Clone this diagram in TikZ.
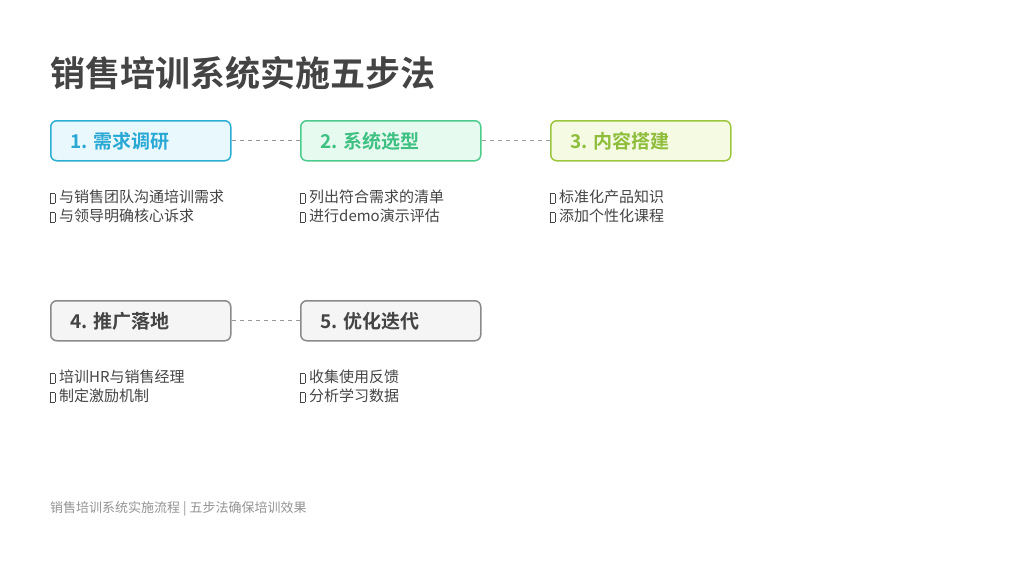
\documentclass[tikz,border=0pt]{standalone}
\usepackage{fontspec}
\setmainfont{Noto Sans CJK SC}
\newfontfamily\cjkb{Noto Sans CJK SC Bold}
\definecolor{bA}{HTML}{2AAED2}\definecolor{fA}{HTML}{E9F8FD}\definecolor{tA}{HTML}{2AA8D4}
\definecolor{bB}{HTML}{4DCB8C}\definecolor{fB}{HTML}{E6FAF0}\definecolor{tB}{HTML}{3EC082}
\definecolor{bC}{HTML}{9CC63E}\definecolor{fC}{HTML}{F5FBE2}\definecolor{tC}{HTML}{8EBD3B}
\definecolor{bD}{HTML}{8A8A8A}\definecolor{fD}{HTML}{F5F5F5}\definecolor{tD}{HTML}{444444}
\newcommand{\tofu}{{\setlength\fboxsep{0pt}\setlength\fboxrule{0.5pt}\fbox{\rule{0pt}{9pt}\hspace{4pt}}}\hspace{4pt}}
\begin{document}
\begin{tikzpicture}[x=1pt,y=-1pt,
  stepbox/.style={draw=#1!100,line width=1.5pt,rounded corners=6pt,minimum width=180pt,minimum height=40pt,anchor=north west},
  lbl/.style={anchor=west,font=\cjkb\fontsize{19}{19}\selectfont},
  conn/.style={draw=gray!80,dashed,line width=1pt,dash pattern=on 4pt off 4pt},
  items/.style={anchor=north west,align=left,font=\fontsize{15}{19}\selectfont,text=tD,inner sep=0pt}]
\useasboundingbox (0,0) rectangle (1024,576);
\node[anchor=west,font=\cjkb\fontsize{35}{35}\selectfont,text=tD,inner sep=0pt] (title) at (50,73) {销售培训系统实施五步法};
\node[stepbox=bA,fill=fA] (s1) at (50,120) {};
\node[stepbox=bB,fill=fB] (s2) at (300,120) {};
\node[stepbox=bC,fill=fC] (s3) at (550,120) {};
\node[stepbox=bD,fill=fD] (s4) at (50,300) {};
\node[stepbox=bD,fill=fD] (s5) at (300,300) {};
\node[lbl,text=tA] (l1) at (67,141) {1. 需求调研};
\node[lbl,text=tB] (l2) at (317,141) {2. 系统选型};
\node[lbl,text=tC] (l3) at (567,141) {3. 内容搭建};
\node[lbl,text=tD] (l4) at (67,321) {4. 推广落地};
\node[lbl,text=tD] (l5) at (317,321) {5. 优化迭代};
\draw[conn] (s1.east) -- (s2.west);
\draw[conn] (s2.east) -- (s3.west);
\draw[conn] (s4.east) -- (s5.west);
\node[items] (i1) at (50,190) {\tofu 与销售团队沟通培训需求\\\tofu 与领导明确核心诉求};
\node[items] (i2) at (300,190) {\tofu 列出符合需求的清单\\\tofu 进行demo演示评估};
\node[items] (i3) at (550,190) {\tofu 标准化产品知识\\\tofu 添加个性化课程};
\node[items] (i4) at (50,370) {\tofu 培训HR与销售经理\\\tofu 制定激励机制};
\node[items] (i5) at (300,370) {\tofu 收集使用反馈\\\tofu 分析学习数据};
\node[anchor=west,inner sep=0pt,text=gray!85,font=\fontsize{13}{13}\selectfont] (foot) at (50,509) {销售培训系统实施流程 | 五步法确保培训效果};
\end{tikzpicture}
\end{document}
